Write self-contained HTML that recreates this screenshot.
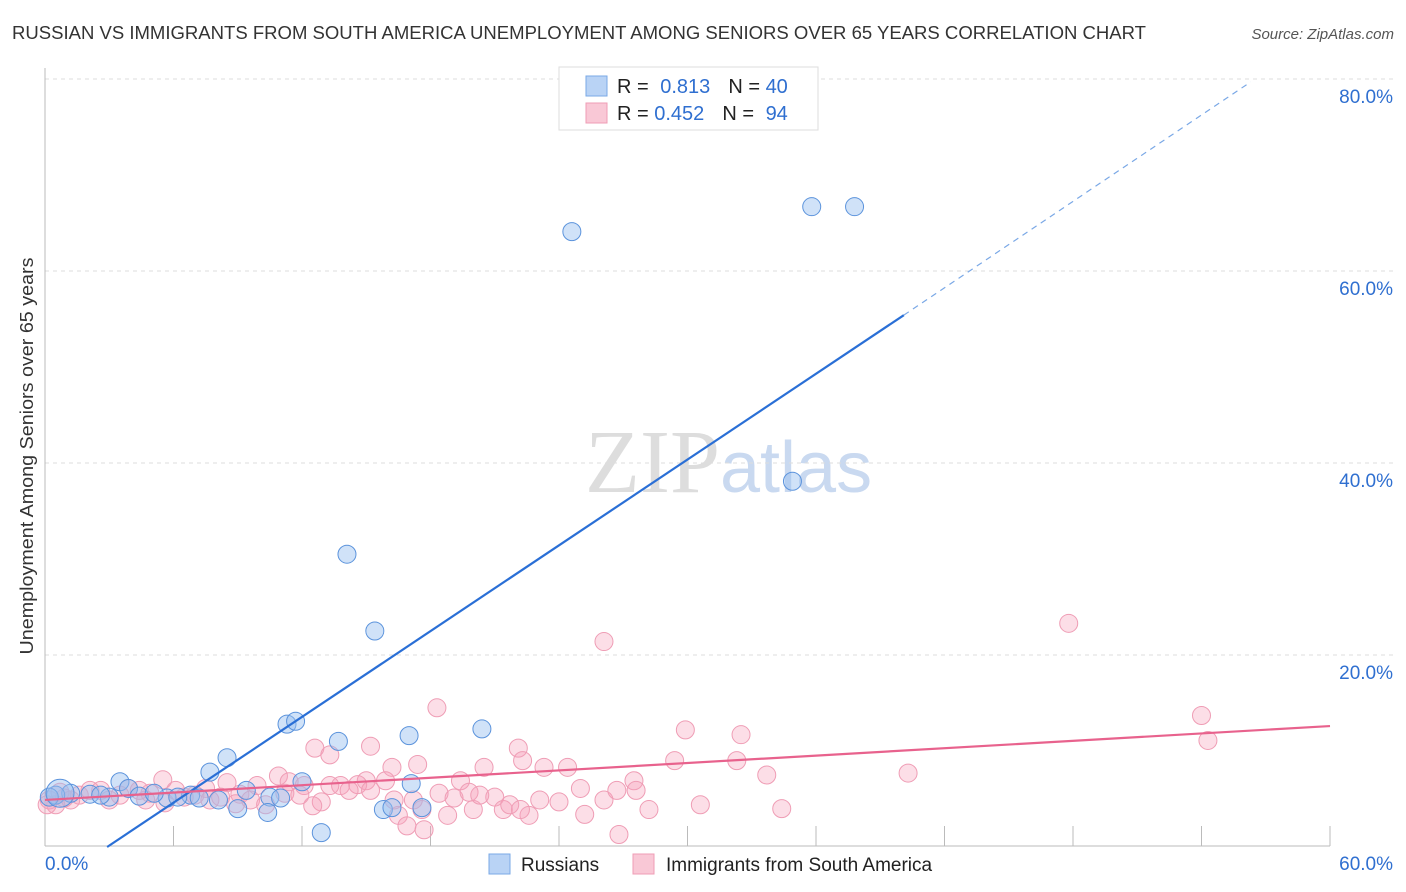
<!DOCTYPE html>
<html><head><meta charset="utf-8"><style>
body{margin:0;background:#fff;font-family:"Liberation Sans",sans-serif}
svg{display:block}
</style></head><body>
<svg id="chart" width="1406" height="892">
<text x="12" y="39" font-size="18" fill="#333" textLength="1134" lengthAdjust="spacingAndGlyphs">RUSSIAN VS IMMIGRANTS FROM SOUTH AMERICA UNEMPLOYMENT AMONG SENIORS OVER 65 YEARS CORRELATION CHART</text>
<text x="1394" y="39" font-size="15" fill="#555" font-style="italic" text-anchor="end">Source: ZipAtlas.com</text>
<text x="720" y="492" font-size="90" fill="#ddd" text-anchor="end" font-family="Liberation Serif">ZIP</text>
<text x="720" y="492" font-size="72" fill="#c9d9f0">atlas</text>
<text transform="translate(33,456) rotate(-90)" font-size="18" fill="#333" text-anchor="middle" textLength="397" lengthAdjust="spacingAndGlyphs">Unemployment Among Seniors over 65 years</text>
<g id="grid"></g><g id="pts"></g><g id="lines"></g>
<g>
<rect x="559" y="67" width="259" height="63" fill="#fff" stroke="#ddd"/>
<rect x="586" y="76" width="21" height="20" fill="#b9d3f5" stroke="#7aa8e6"/>
<rect x="586" y="103" width="21" height="20" fill="#f9c8d6" stroke="#ef9db5"/>
<text x="617" y="93" font-size="20" fill="#222">R = <tspan fill="#2f6fd0" dx="6">0.813</tspan><tspan dx="18" fill="#222">N = </tspan><tspan fill="#2f6fd0">40</tspan></text>
<text x="617" y="120" font-size="20" fill="#222">R = <tspan fill="#2f6fd0">0.452</tspan><tspan dx="18" fill="#222">N = </tspan><tspan fill="#2f6fd0" dx="6">94</tspan></text>
</g>
<g>
<rect x="489" y="854" width="21" height="20" fill="#b9d3f5" stroke="#7aa8e6"/>
<text x="521" y="871" font-size="19" fill="#222">Russians</text>
<rect x="633" y="854" width="21" height="20" fill="#f9c8d6" stroke="#ef9db5"/>
<text x="666" y="871" font-size="19" fill="#222">Immigrants from South America</text>
</g>
</svg>
<script>
const yTicks=[20,40,60,80];
const xLabels=["0.0%","60.0%"];
const blueX=[24.6,35.8,37.8,34.9,14.1,15.4,11.3,11.7,13.7,17.0,20.4,8.5,7.7,3.5,3.9,12.0,17.1,9.4,10.5,11.0,6.8,5.7,8.1,9.0,10.4,12.9,15.8,16.2,17.6,3.0,2.1,1.2,0.5,0.2,2.6,4.4,5.1,6.2,7.2,0.7];
const blueY=[64.1,66.7,66.7,38.1,30.5,22.5,12.8,13.1,11.0,11.6,12.3,9.3,7.8,6.8,6.1,6.8,6.6,5.9,5.2,5.1,5.4,5.1,4.9,4.0,3.6,1.5,3.9,4.1,4.1,5.2,5.5,5.6,5.4,5.2,5.4,5.3,5.6,5.2,5.1,5.6];
const pinkX=[26.1,47.8,54.0,54.3,29.9,32.5,18.3,12.6,13.3,15.2,22.1,20.5,16.2,17.4,22.3,23.3,24.4,29.4,32.3,33.7,40.3,25.0,27.5,27.6,26.1,26.7,25.2,26.8,34.4,22.6,19.4,18.4,21.0,21.4,18.8,20.0,17.6,16.5,16.9,17.7,15.0,14.6,13.8,15.9,10.9,11.4,12.1,12.9,12.5,9.9,9.1,8.5,7.5,5.5,3.9,2.6,1.6,0.9,0.2,0.5,6.1,6.5,4.9,3.5,4.7,5.6,7.0,7.7,8.2,8.9,9.6,10.3,11.2,11.9,13.3,14.2,15.2,16.3,17.2,19.1,19.8,21.7,23.1,24.0,28.2,30.6,22.2,20.3,2.1,3.0,0.7,1.2,0.1,4.4];
const pinkY=[21.4,23.3,13.7,11.1,12.2,11.7,14.5,10.3,9.6,10.5,10.3,8.3,8.3,8.6,9.0,8.3,8.3,9.0,9.0,7.5,7.7,6.1,6.9,5.9,4.9,5.9,3.4,1.3,4.0,3.3,6.9,5.6,5.2,3.9,3.3,3.9,3.9,3.3,2.2,1.8,6.9,6.5,6.4,6.9,7.4,6.8,6.4,4.7,4.3,6.4,5.5,6.7,6.1,7.0,6.1,5.9,5.4,5.1,4.9,4.4,5.9,5.2,5.6,5.4,4.9,4.6,5.4,4.9,5.2,4.5,4.9,4.4,5.6,5.4,6.4,5.9,5.9,4.9,4.9,5.1,5.7,4.4,4.9,4.7,3.9,4.4,3.9,5.4,5.9,4.9,5.7,4.9,4.4,5.9];
const blueFit=[[2.9,0],[40.1,55.4]], blueDash=[[40.1,55.4],[56.3,79.7]];
const pinkFit=[[0,4.9],[60,12.6]];
const X0=45,X1=1330,Y0=847,Y80=79;
const sx=v=>X0+(X1-X0)*v/60, sy=v=>Y0-(Y0-Y80)*v/80;
const NS="http://www.w3.org/2000/svg";
function mk(p,t,a){const e=document.createElementNS(NS,t);for(const k in a)e.setAttribute(k,a[k]);p.appendChild(e);return e;}
const grid=document.getElementById('grid');
yTicks.forEach(t=>{
 const l=mk(grid,'line',{x1:X0,x2:1393,y1:sy(t),y2:sy(t),stroke:'#ddd','stroke-dasharray':'4,4'});
 
 
 const tx=mk(grid,'text',{x:1393,y:sy(t)+24,'font-size':19,fill:'#2f6fd0','text-anchor':'end'});
 tx.textContent=t.toFixed(1)+'%';
 
 
});
const ax=mk(grid,'line',{x1:X0,x2:X0,y1:68,y2:846,stroke:'#bbb'});


const bx=mk(grid,'line',{x1:X0,x2:X1,y1:846,y2:846,stroke:'#bbb'});


for(let i=1;i<=10;i++){const tk=mk(grid,'line',{x1:sx(i*6),x2:sx(i*6),y1:826,y2:846,stroke:'#bbb'});
 
 }
[[X0,'start',xLabels[0]],[1393,'end',xLabels[1]]].forEach(([x,a,s])=>{const t=mk(grid,'text',{x:x,y:870,'font-size':19,fill:'#2f6fd0','text-anchor':a});t.textContent=s;
 
 });
const pts=document.getElementById('pts');
pinkX.forEach((v,i)=>{const c=mk(pts,'circle',{cx:sx(v),cy:sy(pinkY[i]),r:9,fill:'rgba(245,160,185,0.35)',stroke:'#ef9db5','stroke-width':1});
 
 });
blueX.forEach((v,i)=>{const c=mk(pts,'circle',{cx:sx(v),cy:sy(blueY[i]),r:i==39?14:9,fill:'rgba(150,190,240,0.45)',stroke:'#5b93dc','stroke-width':1});
 
 });
const lg=document.getElementById('lines');
const b=mk(lg,'line',{x1:sx(blueFit[0][0]),y1:sy(blueFit[0][1]),x2:sx(blueFit[1][0]),y2:sy(blueFit[1][1]),stroke:'#2a6fd6','stroke-width':2.2});


const bd=mk(lg,'line',{x1:sx(blueDash[0][0]),y1:sy(blueDash[0][1]),x2:sx(blueDash[1][0]),y2:sy(blueDash[1][1]),stroke:'#7aa8e6','stroke-width':1.2,'stroke-dasharray':'6,5'});


const p=mk(lg,'line',{x1:sx(pinkFit[0][0]),y1:sy(pinkFit[0][1]),x2:sx(pinkFit[1][0]),y2:sy(pinkFit[1][1]),stroke:'#e8628d','stroke-width':2.2});


</script>
</body></html>
